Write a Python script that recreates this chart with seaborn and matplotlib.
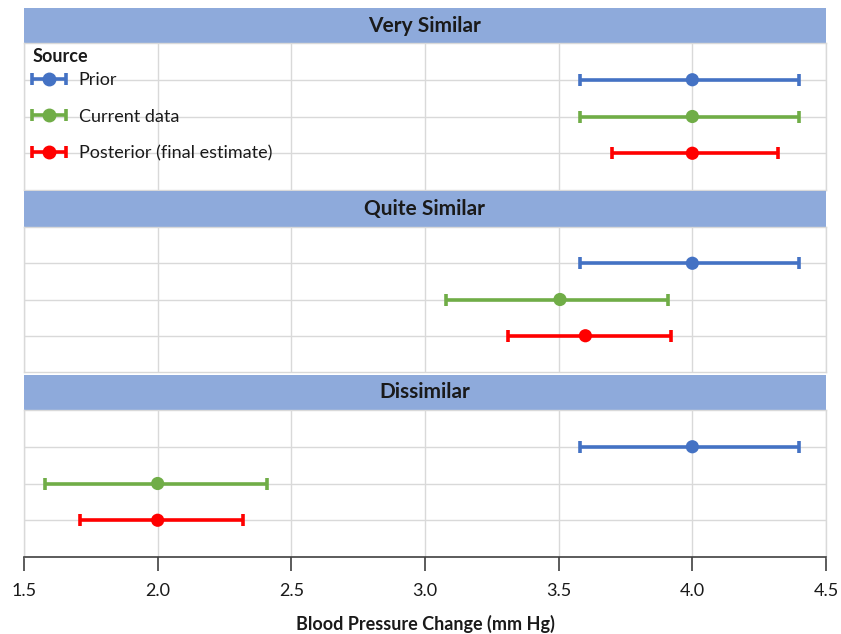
import matplotlib
matplotlib.use("Agg")
import matplotlib.pyplot as plt
import seaborn as sns
import pandas as pd
from matplotlib.container import ErrorbarContainer
from matplotlib.legend_handler import HandlerErrorbar

sns.set_theme(style="white")
plt.rcParams['font.family'] = ['Lato', 'DejaVu Sans']

panels = ["Very Similar", "Quite Similar", "Dissimilar"]
sources = ["Prior", "Current data", "Posterior (final estimate)"]
colors = ["#4472C4", "#70AD47", "#FF0000"]

mean_very = [4.00, 4.00, 4.00]
low_very = [3.58, 3.58, 3.70]
high_very = [4.40, 4.40, 4.32]

mean_quite = [4.00, 3.505, 3.60]
low_quite = [3.58, 3.08, 3.31]
high_quite = [4.40, 3.91, 3.92]

mean_dis = [4.00, 2.00, 2.00]
low_dis = [3.58, 1.58, 1.71]
high_dis = [4.40, 2.41, 2.32]

x_ticks = [1.5, 2.0, 2.5, 3.0, 3.5, 4.0, 4.5]
x_tick_labels = ["1.5", "2.0", "2.5", "3.0", "3.5", "4.0", "4.5"]
x_label = "Blood Pressure Change (mm Hg)"
legend_title = "Source"

rows = []
for p, m, lo, hi in zip(panels, [mean_very, mean_quite, mean_dis],
                        [low_very, low_quite, low_dis], [high_very, high_quite, high_dis]):
    for i, s in enumerate(sources):
        rows.append(dict(panel=p, source=s, row=i + 1, mean=m[i], low=lo[i], high=hi[i]))
df = pd.DataFrame(rows)

W, H = 841, 634
fig = plt.figure(figsize=(W / 100, H / 100), dpi=100)

def fx(px):
    return px / W

def fy(top_px, bot_px):
    return (H - bot_px) / H, (bot_px - top_px) / H

x0, x1 = 24, 826
layout = [((8, 43), (43, 190)), ((191, 227), (227, 372)), ((375, 410), (410, 557))]
header_color = "#8EAADB"
grid_color = "#D9D9D9"
text_color = "#1a1a1a"
LW = 2.6
CAP = 4
MS = 9.5

body_axes = []
for k, (panel, ((ht, hb), (bt, bb))) in enumerate(zip(panels, layout)):
    b, h = fy(ht, hb)
    hax = fig.add_axes([fx(x0), b, fx(x1 - x0), h])
    hax.set_facecolor(header_color)
    hax.set_xticks([]); hax.set_yticks([])
    for sp in hax.spines.values():
        sp.set_visible(False)
    hax.text(0.5, 0.5, panel, ha="center", va="center", fontsize=15,
             fontweight="bold", color=text_color, transform=hax.transAxes)

    b, h = fy(bt, bb)
    ax = fig.add_axes([fx(x0), b, fx(x1 - x0), h])
    body_axes.append(ax)
    sub = df[df.panel == panel].reset_index(drop=True)
    for i, r in sub.iterrows():
        ax.errorbar(r["mean"], r["row"],
                    xerr=[[r["mean"] - r["low"]], [r["high"] - r["mean"]]],
                    fmt="none", ecolor=colors[i], elinewidth=LW, capsize=CAP,
                    capthick=LW, zorder=3)
    sns.scatterplot(data=sub, x="mean", y="row", hue="source", palette=colors,
                    hue_order=sources, s=MS ** 2, edgecolor="none", ax=ax,
                    legend=False, zorder=4)
    ax.set_xlim(1.5, 4.5)
    ax.set_ylim(4, 0)
    ax.set_xticks(x_ticks)
    ax.set_yticks([1, 2, 3])
    ax.set_yticklabels([])
    ax.tick_params(axis="y", length=0)
    ax.grid(True, color=grid_color, linewidth=1)
    ax.set_axisbelow(True)
    ax.set_xlabel(""); ax.set_ylabel("")
    for sp in ax.spines.values():
        sp.set_color(grid_color)
        sp.set_linewidth(1)
    if k < 2:
        ax.set_xticklabels([])
        ax.tick_params(axis="x", length=0)
    else:
        ax.set_xticklabels(x_tick_labels, fontsize=13, color=text_color)
        ax.tick_params(axis="x", direction="out", length=10, width=1.2,
                       color="#404040", bottom=True, pad=9)
        ax.spines["bottom"].set_color("#404040")
        ax.spines["bottom"].set_linewidth(1.2)
        ax.set_xlabel(x_label, fontsize=13, fontweight="bold", labelpad=11,
                      color=text_color)

    if k == 0:
        hs = []
        for i, c in enumerate(colors):
            eb = ax.errorbar([-10], [1], xerr=[0.1], fmt="o", color=c, ecolor=c,
                             elinewidth=LW, capsize=CAP, capthick=LW,
                             markersize=MS - 0.5, label=sources[i])
            hs.append(eb)
        ax.text(0.011, 1 - 14 / 147, legend_title, transform=ax.transAxes,
                ha="left", va="center", fontsize=13, fontweight="bold",
                color=text_color)
        ax.legend(hs, sources, loc="upper left", bbox_to_anchor=(0.0087, 0.80),
                  frameon=False, fontsize=13, numpoints=1,
                  handler_map={ErrorbarContainer: HandlerErrorbar(xerr_size=0.95)},
                  handlelength=2.0, labelspacing=1.13, handletextpad=0.65,
                  borderaxespad=0, borderpad=0, labelcolor=text_color)

fig.savefig("out.png", dpi=100)
